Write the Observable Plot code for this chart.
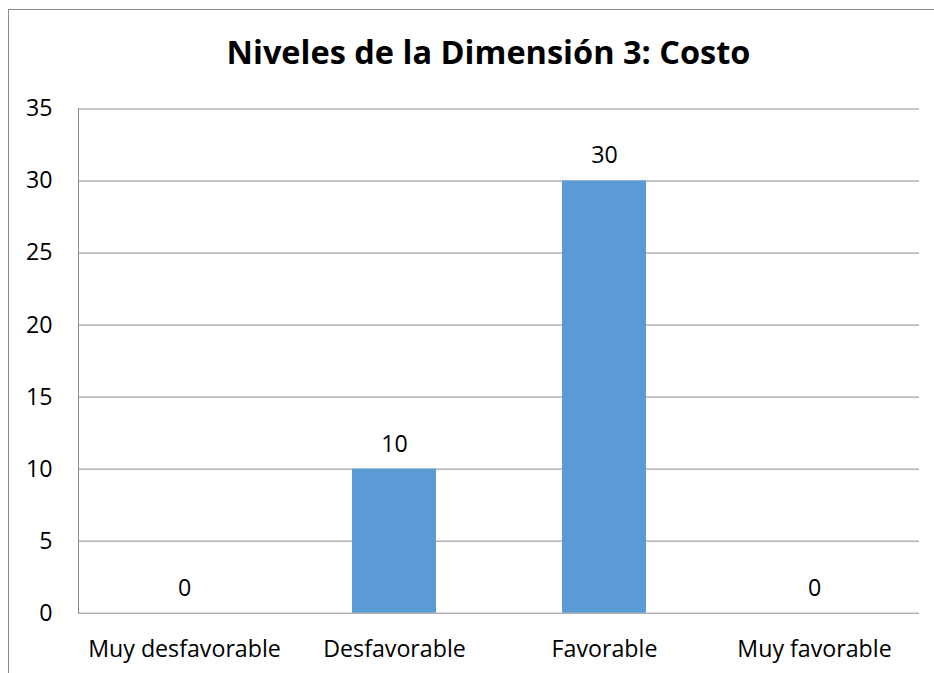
<!DOCTYPE html>
<html>
<head>
<meta charset="utf-8">
<script src="https://cdn.jsdelivr.net/npm/d3@7"></script>
<script src="https://cdn.jsdelivr.net/npm/@observablehq/plot@0.6"></script>
<style>
  html, body { margin: 0; padding: 0; background: #fff; overflow: hidden; }
  body { width: 934px; height: 673px; position: relative; font-family: 'Open Sans', sans-serif; }
  #frame { position: absolute; left: 8px; top: 9px; right: -2px; bottom: -2px;
           border-left: 1px solid #8a8a8a; border-top: 1px solid #8a8a8a; }
  #title { position: absolute; top: 36px; left: 43px; width: 891px; text-align: center;
           font-family: 'Open Sans', sans-serif; font-weight: 700; font-size: 32.5px; line-height: 1; color: #000; }
  #chart { position: absolute; left: 0; top: 80px; }
</style>
</head>
<body>
<div id="frame"></div>
<div id="title">Niveles de la Dimensión 3: Costo</div>
<div id="chart"></div>
<script>
const categories = ["Muy desfavorable", "Desfavorable", "Favorable", "Muy favorable"];
const values = [0, 10, 30, 0];
const yTicks = [0, 5, 10, 15, 20, 25, 30, 35];

const data = categories.map((c, i) => ({category: c, value: values[i]}));

const chart = Plot.plot({
  width: 934,
  height: 593,
  marginTop: 28.5,
  marginBottom: 60.3,
  marginLeft: 78,
  marginRight: 15,
  style: {fontFamily: "'Open Sans', sans-serif", fontSize: "23.2px", background: "transparent", color: "#000"},
  x: {domain: categories, paddingInner: 0.6, paddingOuter: 0.3, label: null},
  y: {domain: [0, 35], ticks: yTicks, label: null},
  marks: [
    Plot.gridY(yTicks, {stroke: "#8a8a8a", strokeOpacity: 1}),
    Plot.frame({anchor: "left", stroke: "#8a8a8a"}),
    Plot.barY(data, {x: "category", y: "value", fill: "#5B9BD5"}),
    Plot.text(data, {x: "category", y: "value", text: d => String(d.value), dy: -25, fill: "#000"}),
    Plot.axisY(yTicks, {tickSize: 0, tickPadding: 26, label: null}),
    Plot.axisX({tickSize: 0, tickPadding: 27.5, label: null})
  ]
});
document.getElementById("chart").appendChild(chart);
</script>
</body>
</html>
